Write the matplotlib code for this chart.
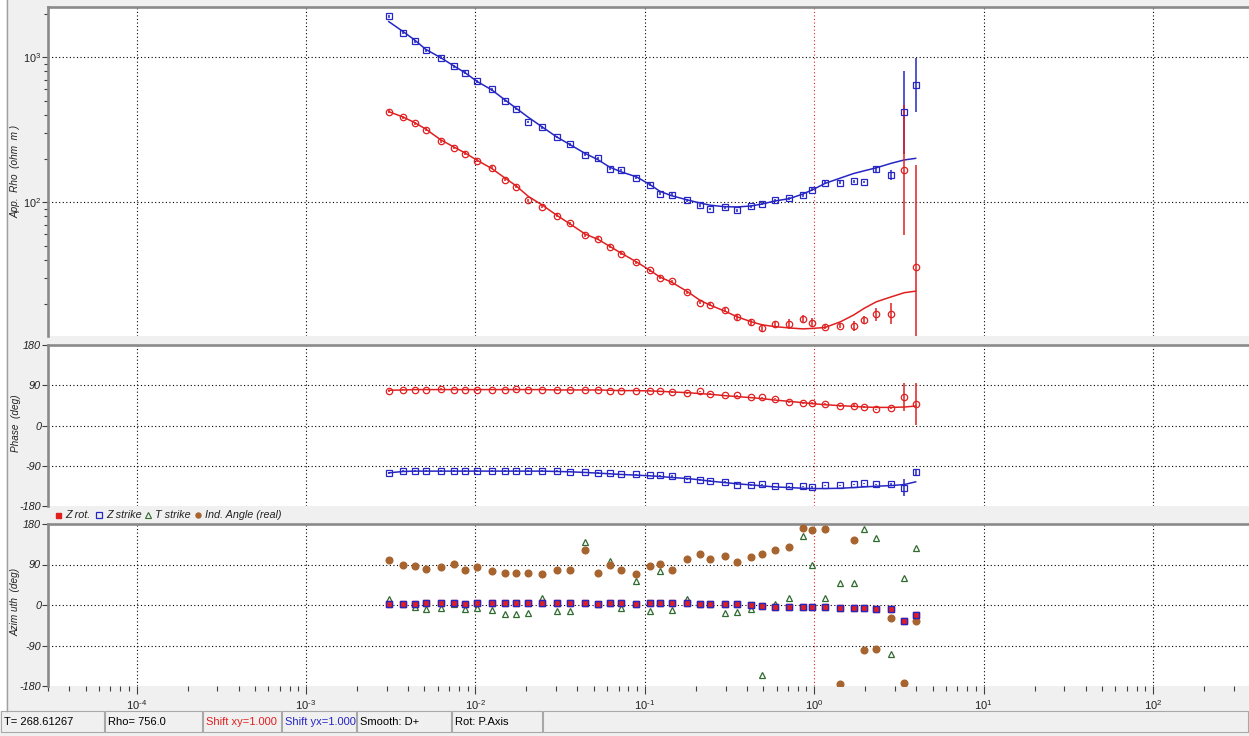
import numpy as np
import matplotlib
matplotlib.use("Agg")
import matplotlib.pyplot as plt
from matplotlib.lines import Line2D
from matplotlib.patches import Rectangle
from matplotlib.ticker import LogLocator, FuncFormatter, NullFormatter, FixedLocator

plt.rcParams['font.family'] = ['Liberation Sans', 'DejaVu Sans']
plt.rcParams['mathtext.fontset'] = 'custom'
plt.rcParams['mathtext.rm'] = 'Liberation Sans'
plt.rcParams['mathtext.it'] = 'Liberation Sans:italic'
plt.rcParams['mathtext.default'] = 'it'

# ---------------- data ----------------
periods = [0.003083, 0.00375, 0.004375, 0.005093, 0.006237, 0.007499, 0.00869, 0.01023,
           0.0125, 0.01496, 0.01738, 0.02051, 0.02489, 0.03027, 0.03598, 0.04457, 0.05285,
           0.06194, 0.07278, 0.08913, 0.1067, 0.123, 0.1442, 0.1778, 0.2118, 0.2438, 0.2958,
           0.3524, 0.4256, 0.492, 0.5835, 0.7129, 0.857, 0.9772, 1.159, 1.429, 1.71, 1.977,
           2.328, 2.858, 3.404, 3.972]

# apparent resistivity (ohm m): xy in red, yx in blue
rho_xy = [420, 385, 352, 317, 264, 237, 216, 193, 173, 143,
          128, 103, 93.3, 80.9, 71.6, 59.2, 56.1, 49.4, 44.3, 38.5,
          34.0, 30.2, 28.6, 24.0, 20.3, 19.7, 18.0, 16.2, 15.0, 13.6,
          14.5, 14.4, 15.7, 14.8, 13.9, 14.0, 14.0, 15.4, 16.9, 17.0,
          167, 36.0]
rho_xy_model = [422, 387, 355, 320, 270, 240, 219, 195, 171, 147,
                130, 110, 95.5, 81.3, 71.3, 60.3, 55.6, 49.8, 44.5, 38.9,
                34.1, 30.5, 28.1, 24.3, 21.1, 19.5, 17.8, 16.2, 15.0, 14.3,
                13.9, 13.6, 13.4, 13.5, 13.7, 15.0, 16.7, 18.6, 20.6, 22.3,
                23.8, 24.4]
rho_xy_err_dex = [0.01, 0.01, 0.01, 0.01, 0.01, 0.01, 0.01, 0.01, 0.01, 0.01,
                  0.01, 0.01, 0.01, 0.01, 0.01, 0.01, 0.01, 0.01, 0.01, 0.01,
                  0.01, 0.01, 0.01, 0.01, 0.01, 0.01, 0.015, 0.02, 0.02, 0.025,
                  0.02, 0.035, 0.03, 0.03, 0.015, 0.015, 0.035, 0.03, 0.046, 0.073,
                  0.448, 0.70]
rho_yx = [1919, 1479, 1288, 1122, 993, 867, 783, 682, 601, 500,
          440, 358, 329, 282, 252, 213, 202, 171, 167, 148,
          132, 115, 113, 103, 95.7, 89.9, 92.5, 88.1, 94.2, 97.7,
          103, 107, 112, 122, 136, 136, 140, 138, 170, 154,
          418, 644]
rho_yx_model = [1762, 1503, 1318, 1135, 995, 869, 783, 682, 596, 508,
                446, 386, 330, 282, 251, 217, 197, 175, 162, 150,
                133, 119, 111, 104, 98.9, 95.5, 93.3, 92.9, 94.4, 97.3,
                102, 106, 114, 122, 135, 147, 158, 165, 173, 186,
                196, 201]
rho_yx_err_dex = [0.01, 0.01, 0.01, 0.01, 0.01, 0.01, 0.01, 0.01, 0.01, 0.01,
                  0.01, 0.01, 0.01, 0.01, 0.01, 0.01, 0.01, 0.01, 0.01, 0.01,
                  0.01, 0.01, 0.01, 0.01, 0.01, 0.01, 0.01, 0.01, 0.01, 0.01,
                  0.01, 0.01, 0.01, 0.01, 0.01, 0.01, 0.01, 0.01, 0.02, 0.034,
                  0.287, 0.184]

# phase (deg)
phase_xy = [76.5, 80.3, 80.3, 80.3, 82.5, 80.3, 80.3, 78.8, 80.3, 80.3,
            82.5, 80.3, 80.3, 80.3, 80.3, 80.3, 80.3, 78.0, 78.0, 78.0,
            78.0, 76.5, 75.0, 72.8, 76.5, 70.5, 67.5, 67.5, 63.0, 63.0,
            60.0, 52.5, 50.3, 49.5, 48.0, 44.3, 44.3, 40.5, 36.0, 38.3,
            63.0, 48.0]
phase_xy_model = [78.8, 79.5, 80.3, 80.3, 80.3, 80.3, 80.3, 80.3, 80.3, 80.3,
                  80.3, 80.3, 80.3, 79.5, 79.5, 79.5, 79.5, 78.8, 78.0, 78.0,
                  77.3, 76.5, 75.0, 73.5, 71.3, 69.8, 66.8, 64.5, 62.3, 60.0,
                  57.0, 54.0, 51.0, 48.8, 46.5, 44.3, 42.8, 41.3, 40.5, 40.5,
                  41.3, 43.5]
phase_xy_err = [1.5, 1.5, 1.5, 1.5, 1.5, 1.5, 1.5, 1.5, 1.5, 1.5,
                1.5, 1.5, 1.5, 1.5, 1.5, 1.5, 1.5, 1.5, 1.5, 1.5,
                1.5, 1.5, 1.5, 1.5, 1.5, 1.5, 1.5, 1.5, 1.5, 1.5,
                1.5, 2.0, 2.0, 2.0, 2.0, 2.0, 4.0, 2.0, 2.0, 2.0,
                31.0, 46.0]
phase_yx = [-107.3, -102.0, -102.0, -102.0, -102.0, -102.0, -102.0, -102.0, -102.0, -102.0,
            -102.0, -102.0, -102.0, -102.0, -103.5, -105.0, -106.5, -107.3, -109.5, -109.5,
            -111.8, -111.8, -113.3, -120.0, -121.5, -123.8, -126.0, -132.0, -133.5, -131.3,
            -135.8, -135.8, -135.8, -137.3, -133.5, -133.5, -131.3, -129.0, -131.3, -131.3,
            -139.5, -105.0]
phase_yx_model = [-105.8, -102.8, -102.0, -102.0, -102.0, -102.0, -102.0, -102.0, -102.0, -102.0,
                  -102.0, -102.0, -102.0, -102.8, -103.5, -105.0, -106.5, -108.0, -109.5, -111.0,
                  -112.5, -114.0, -116.3, -118.5, -121.5, -124.5, -127.5, -130.5, -132.8, -135.0,
                  -137.3, -138.8, -140.3, -141.0, -141.0, -140.3, -138.8, -137.3, -135.8, -134.3,
                  -132.0, -126.0]
phase_yx_err = [1.5, 1.5, 1.5, 1.5, 1.5, 1.5, 1.5, 1.5, 1.5, 1.5,
                1.5, 1.5, 1.5, 1.5, 1.5, 1.5, 1.5, 1.5, 1.5, 1.5,
                1.5, 1.5, 1.5, 1.5, 1.5, 1.5, 1.5, 1.5, 1.5, 1.5,
                1.5, 1.5, 1.5, 1.5, 1.5, 1.5, 1.5, 1.5, 1.5, 2.0,
                19.0, 8.0]

# azimuths (deg)
z_rot = [3, 3, 3, 4.5, 4.5, 4.5, 3, 5.3, 5.3, 5.3,
         5.3, 5.3, 4.5, 5.3, 5.3, 5.3, 3, 5.3, 4.5, 3,
         5.3, 5.3, 5.3, 5.3, 1.5, 1.5, 3, 3, 0.8, -2.3,
         -4.5, -4.5, -4.5, -4.5, -4.5, -7.5, -7.5, -7.5, -9.0, -9.8,
         -34.5, -22.5]
z_strike = [3, 3, 3, 4.5, 4.5, 4.5, 3, 5.3, 5.3, 5.3,
            5.3, 5.3, 4.5, 5.3, 5.3, 5.3, 3, 5.3, 4.5, 3,
            5.3, 5.3, 5.3, 5.3, 1.5, 1.5, 3, 3, 0.8, -2.3,
            -4.5, -4.5, -4.5, -4.5, -4.5, -7.5, -7.5, -7.5, -9.0, -9.8,
            -34.5, -22.5]
t_strike = [12.8, 3, -4.5, -9.8, -6, 3, -9.8, -6, -12, -19.5,
            -19.5, -17.3, 15, -13.5, -13.5, 140.3, 3, 97.5, -6, 54,
            -13.5, 76.5, -12, 12.8, 3, 3, -17.3, -15, -9.8, -156,
            3, 16.5, 153, 87.8, 16.5, 48, 48, 168, 150, -109.5,
            60, 126.8]
ind_angle = [100.5, 88.5, 86.3, 81, 85.5, 91.5, 78, 84, 76.5, 71.3,
             71.3, 71.3, 69, 78.8, 78.8, 123, 71.3, 89.3, 78.8, 69,
             86.3, 91.5, 78.8, 101.3, 114, 101.3, 108, 96, 106.5, 113.3,
             123, 129.8, 171.8, 166.5, 169.5, -176.5, 145, -100.6, -96.8, -27.9,
             -173.5, -35.3]

marker_period = 1.0
angle_ticks = [-180, -90, 0, 90, 180]
angle_labels = ['-180', '-90', '0', '90', '180']
legend_labels = ['Z rot.', 'Z strike', 'T strike', 'Ind. Angle (real)']
status_texts = ['T= 268.61267', 'Rho= 756.0', 'Shift xy=1.000', 'Shift yx=1.000',
                'Smooth: D+', 'Rot: P.Axis', '']

# ---------------- styling ----------------
RED = '#e02020'
BLUE = '#2626c4'
GREEN = '#2f6a2f'
BROWN = '#a8642e'
FRAME = '#8a8a8a'
BG = '#f0f0f0'
TXT = '#222222'

W, H = 1249, 736
fig = plt.figure(figsize=(W / 100, H / 100), dpi=100, facecolor=BG)


def box(l, t, r, b):
    return [l / W, 1 - b / H, (r - l) / W, (b - t) / H]


def fx(x):
    return x / W


def fy(y):
    return 1 - y / H


def decade_label(v, pos):
    n = int(round(np.log10(v)))
    exp = str(abs(n)) if n >= 0 else '\u2010' + str(abs(n))
    return r'$10^{%s}$' % exp


def decades_within(lo, hi):
    return 10.0 ** np.arange(np.ceil(np.log10(lo)), np.floor(np.log10(hi)) + 1)


# background decorations (window border, status bar)
ax_bg = fig.add_axes([0, 0, 1, 1])
ax_bg.set_zorder(-5)
ax_bg.set_xlim(0, W)
ax_bg.set_ylim(H, 0)
ax_bg.axis('off')
ax_bg.add_patch(Rectangle((0, 0), 6.5, 711, facecolor='white', edgecolor='none'))
ax_bg.plot([7, 7], [0, 711], color='#a0a0a0', lw=1.0)

cell_edges = [1, 105, 203, 282, 357, 452, 543, 1249]
cell_colors = ['black', 'black', RED, BLUE, 'black', 'black', 'black']
for i, txt in enumerate(status_texts):
    x0, x1 = cell_edges[i], cell_edges[i + 1]
    ax_bg.add_patch(Rectangle((x0 + 0.5, 711), x1 - x0 - 1.5, 20.5, facecolor=BG,
                              edgecolor='#a8a8a8', lw=0.8))
    ax_bg.text(x0 + 3, 722, txt, color=cell_colors[i], fontsize=8, va='center', ha='left')

XMIN, XMAX = 10 ** -4.523, 10 ** 2.567
RHO_MIN, RHO_MAX = 10 ** 1.078, 10 ** 3.347

ax_rho = fig.add_axes(box(48, 7, 1249, 336))
ax_ph = fig.add_axes(box(48, 345, 1249, 506))
ax_az = fig.add_axes(box(48, 524, 1249, 686))

dot = (0, (1, 2.2))
x_decades = decades_within(XMIN, XMAX)


def style_panel(ax):
    ax.set_xscale('log')
    ax.set_xlim(XMIN, XMAX)
    ax.set_facecolor('white')
    for s in ('right', 'bottom'):
        ax.spines[s].set_visible(False)
    for s in ('left', 'top'):
        ax.spines[s].set_color(FRAME)
        ax.spines[s].set_linewidth(1.9)
    ax.xaxis.set_major_locator(FixedLocator(x_decades))
    ax.xaxis.set_minor_locator(LogLocator(base=10, subs=np.arange(2, 10), numticks=20))
    ax.xaxis.set_minor_formatter(NullFormatter())
    ax.tick_params(axis='y', which='major', direction='out', length=4, width=0.8,
                   color='#404040', labelsize=7.8, pad=1, labelcolor=TXT)
    ax.tick_params(axis='y', which='minor', direction='out', length=3, width=0.8,
                   color='#404040')
    for xv in x_decades:
        col = RED if np.isclose(xv, marker_period) else 'black'
        ax.axvline(xv, color=col, linestyle=dot, lw=0.8, zorder=0.5)


for ax in (ax_rho, ax_ph, ax_az):
    style_panel(ax)
for ax in (ax_rho, ax_ph):
    ax.tick_params(axis='x', which='both', bottom=False, labelbottom=False)

# --- apparent resistivity ---
rho_decades = decades_within(RHO_MIN, RHO_MAX)
ax_rho.set_yscale('log')
ax_rho.set_ylim(RHO_MIN, RHO_MAX)
ax_rho.yaxis.set_major_locator(FixedLocator(rho_decades))
ax_rho.yaxis.set_minor_locator(LogLocator(base=10, subs=np.arange(2, 10), numticks=10))
ax_rho.yaxis.set_major_formatter(FuncFormatter(decade_label))
ax_rho.yaxis.set_minor_formatter(NullFormatter())
for yv in rho_decades:
    ax_rho.axhline(yv, color='black', linestyle=dot, lw=0.8, zorder=0.5)

T = np.array(periods)
for rho, model, err, col, mk in ((rho_yx, rho_yx_model, rho_yx_err_dex, BLUE, 's'),
                                 (rho_xy, rho_xy_model, rho_xy_err_dex, RED, 'o')):
    r = np.array(rho)
    e = np.array(err)
    lo = r - r / 10 ** e
    hi = r * 10 ** e - r
    ax_rho.plot(T, model, color=col, lw=1.1, zorder=2)
    ax_rho.errorbar(T, r, yerr=[lo, hi], fmt=mk, mfc='none', mec=col, ecolor=col,
                    ms=4.6, mew=0.9, elinewidth=1.1, capsize=0, zorder=3)

# --- phase ---
ax_ph.set_ylim(-180, 180)
ax_ph.yaxis.set_major_locator(FixedLocator(angle_ticks))
ax_ph.set_yticklabels(angle_labels, fontstyle='italic')
for yv in angle_ticks[1:-1]:
    ax_ph.axhline(yv, color='black', linestyle=dot, lw=0.8, zorder=0.5)
for ph, model, err, col, mk in ((phase_xy, phase_xy_model, phase_xy_err, RED, 'o'),
                                (phase_yx, phase_yx_model, phase_yx_err, BLUE, 's')):
    ax_ph.plot(T, model, color=col, lw=1.1, zorder=2)
    ax_ph.errorbar(T, ph, yerr=err, fmt=mk, mfc='none', mec=col, ecolor=col,
                   ms=4.6, mew=0.9, elinewidth=1.1, capsize=0, zorder=3)

# --- azimuths ---
ax_az.set_ylim(-180, 180)
ax_az.yaxis.set_major_locator(FixedLocator(angle_ticks))
ax_az.set_yticklabels(angle_labels, fontstyle='italic')
for yv in angle_ticks[1:-1]:
    ax_az.axhline(yv, color='black', linestyle=dot, lw=0.8, zorder=0.5)
ax_az.plot(T, t_strike, linestyle='none', marker='^', mfc='none', mec=GREEN, ms=5, mew=0.9, zorder=3)
ax_az.plot(T, ind_angle, linestyle='none', marker='o', mfc=BROWN, mec=BROWN, ms=4.8, zorder=3)
ax_az.plot(T, z_rot, linestyle='none', marker='s', mfc=RED, mec=RED, ms=4.3, zorder=4)
ax_az.plot(T, z_strike, linestyle='none', marker='s', mfc='none', mec=BLUE, ms=4.6, mew=1.0, zorder=5)

ax_az.tick_params(axis='x', which='major', direction='out', length=6, width=0.8,
                  color='#404040', labelsize=8, pad=3, labelcolor=TXT)
ax_az.tick_params(axis='x', which='minor', direction='out', length=3.5, width=0.8,
                  color='#404040')
ax_az.xaxis.set_major_formatter(FuncFormatter(decade_label))

# axis titles
fig.text(fx(16), fy(171), 'App.  Rho  (ohm  m )', rotation=90, fontsize=7.2, fontstyle='italic',
         ha='center', va='center', color=TXT)
fig.text(fx(16), fy(423), 'Phase  (deg)', rotation=90, fontsize=7.2, fontstyle='italic',
         ha='center', va='center', color=TXT)
fig.text(fx(16), fy(602), 'Azim uth  (deg)', rotation=90, fontsize=7.2, fontstyle='italic',
         ha='center', va='center', color=TXT)

# legend row for the azimuth panel
leg_y = fy(515)
leg_items = [
    (58, dict(marker='s', mfc=RED, mec=RED, ms=3.6)),
    (99, dict(marker='s', mfc='none', mec=BLUE, ms=3.8, mew=0.9)),
    (148, dict(marker='^', mfc='none', mec=GREEN, ms=4.0, mew=0.8)),
    (198, dict(marker='o', mfc=BROWN, mec=BROWN, ms=3.6)),
]
for (xm, kw), lab in zip(leg_items, legend_labels):
    fig.add_artist(Line2D([fx(xm)], [leg_y], linestyle='none', transform=fig.transFigure, **kw))
    fig.text(fx(xm + 7), leg_y, lab, fontsize=7.8, fontstyle='italic', ha='left', va='center', color=TXT)

fig.savefig('out.png', dpi=100, facecolor=BG)
